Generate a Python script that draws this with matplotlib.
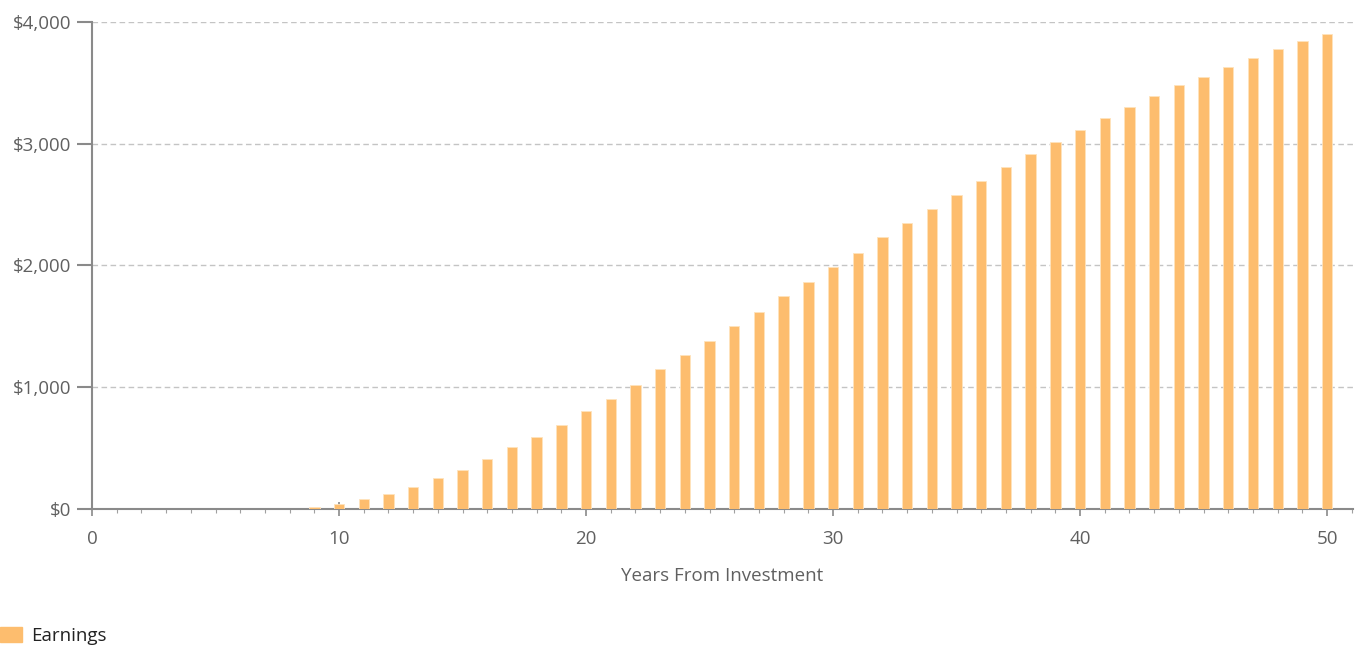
import matplotlib.pyplot as plt
from matplotlib.patches import Patch
from matplotlib.ticker import FuncFormatter, MultipleLocator

# years from investment and earnings
years = list(range(9, 51))
earnings = [20, 40, 80, 123, 181, 252, 323, 408, 507, 594,
            692, 807, 906, 1021, 1147, 1262, 1377, 1505, 1618, 1747,
            1862, 1990, 2105, 2231, 2347, 2461, 2575, 2690, 2805, 2917,
            3016, 3114, 3213, 3298, 3396, 3481, 3549, 3634, 3705, 3775,
            3845, 3900]

bar_color = "#FDBD6E"
axis_gray = "#8a8a8a"
text_gray = "#606060"
fs = 13.5

plt.rcParams["font.family"] = ["Open Sans", "DejaVu Sans"]

fig = plt.figure(figsize=(13.63, 6.45), dpi=100)
ax = fig.add_axes([0.0675, 0.2109, 0.9252, 0.755])

ax.bar(years, earnings, width=0.42, color=bar_color, edgecolor="#FFE3BD", linewidth=0.6, zorder=3)

ax.set_xlim(0, 51.05)
ax.set_ylim(0, 4000)

ax.xaxis.set_major_locator(MultipleLocator(10))
ax.xaxis.set_minor_locator(MultipleLocator(1))
ax.yaxis.set_major_locator(MultipleLocator(1000))
ax.yaxis.set_major_formatter(FuncFormatter(lambda v, p: f"${v:,.0f}"))

for y in [1000, 2000, 3000, 4000]:
    ax.axhline(y, color="#c4c4c4", linestyle=(0, (4, 2.5)), linewidth=1, zorder=1)

for s in ["top", "right"]:
    ax.spines[s].set_visible(False)
for s in ["left", "bottom"]:
    ax.spines[s].set_color(axis_gray)
    ax.spines[s].set_linewidth(1.5)

ax.tick_params(axis="x", which="major", direction="inout", length=10, width=1.2,
               color=axis_gray, labelcolor=text_gray, labelsize=fs, pad=10)
ax.tick_params(axis="x", which="minor", direction="out", length=3, width=0.8, color="#a0a0a0")
ax.tick_params(axis="y", which="major", direction="out", length=11, width=1.5,
               color=axis_gray, labelcolor=text_gray, labelsize=fs, pad=4)

ax.set_xlabel("Years From Investment", color=text_gray, fontsize=fs, labelpad=14)

fig.legend(handles=[Patch(color=bar_color, label="Earnings")], loc="lower left",
           bbox_to_anchor=(0, 0.0), frameon=False, fontsize=fs, borderpad=0,
           borderaxespad=0, handlelength=1.17, handleheight=0.8, handletextpad=0.5,
           labelcolor="#222222")

fig.savefig("out.png", dpi=100)
